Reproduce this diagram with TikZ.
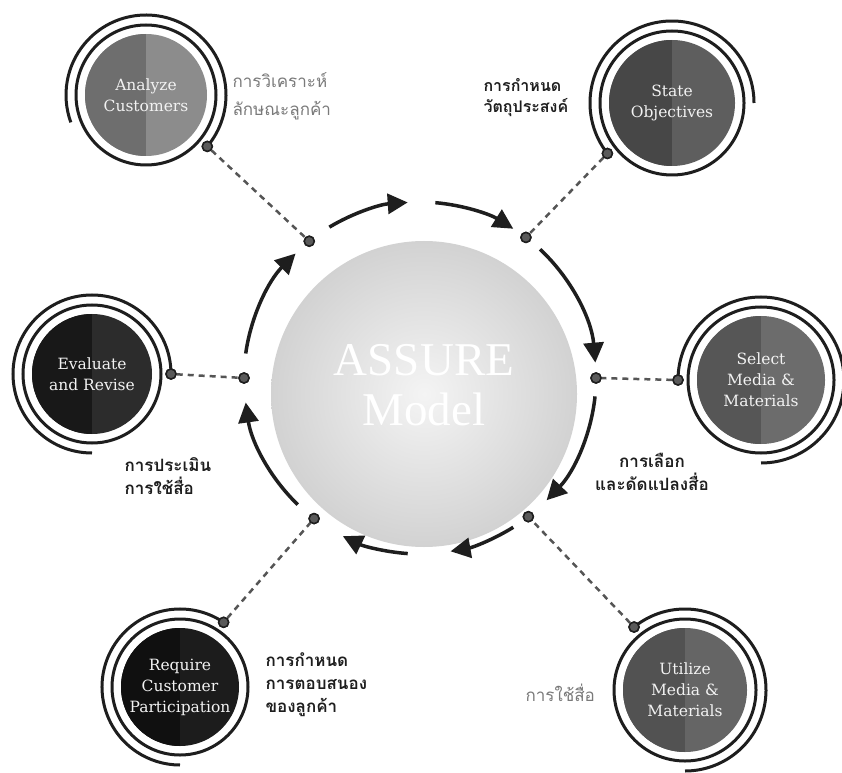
\documentclass[tikz,border=0pt]{standalone}
\usepackage{fontspec}
\setmainfont{DejaVu Serif}
\newfontfamily\thai[Script=Thai]{Loma}
\newfontfamily\titlefont{Liberation Serif}
\usetikzlibrary{arrows.meta,calc}
\definecolor{ink}{HTML}{1E1E1E}
\definecolor{dotfill}{HTML}{5A5A5A}
\definecolor{dashcol}{HTML}{555555}
\definecolor{coreIn}{HTML}{F4F4F4}
\definecolor{coreOut}{HTML}{D2D2D2}
\definecolor{aL}{HTML}{6E6E6E}\definecolor{aR}{HTML}{8C8C8C}
\definecolor{sL}{HTML}{474747}\definecolor{sR}{HTML}{5E5E5E}
\definecolor{mL}{HTML}{565656}\definecolor{mR}{HTML}{6C6C6C}
\definecolor{uL}{HTML}{525252}\definecolor{uR}{HTML}{656565}
\definecolor{qL}{HTML}{101010}\definecolor{qR}{HTML}{1C1C1C}
\definecolor{eL}{HTML}{181818}\definecolor{eR}{HTML}{2C2C2C}
\definecolor{thaigray}{HTML}{7A7A7A}
\definecolor{disktext}{HTML}{F2F2F2}
\tikzset{
  disk/.style={circle, inner sep=0pt, minimum size=#1, text=disktext, align=center,
    font=\fontsize{15.5}{21}\selectfont},
  halfdisk/.style 2 args={fill=#2, path picture={\fill[#1] (path picture bounding box.south west) rectangle (path picture bounding box.north);}},
  ringline/.style={draw=ink, line width=3pt},
  ndot/.style={circle, inner sep=0pt, minimum size=10pt, fill=dotfill, draw=ink, line width=1.5pt},
  rdot/.style={circle, inner sep=0pt, minimum size=10pt, fill=dotfill, draw=ink, line width=1.5pt},
  link/.style={draw=dashcol, line width=2.5pt, dash pattern=on 6pt off 5pt},
  cyc/.style={draw=ink, line width=3.5pt, -{Triangle[length=20pt,width=20pt]}},
  thaibold/.style={font=\thai\bfseries\fontsize{17}{23}\selectfont, align=left, text=ink},
  thaibc/.style={font=\thai\bfseries\fontsize{17}{23}\selectfont, align=center, text=ink},
  thailight/.style={font=\thai\fontsize{17}{28}\selectfont, align=left, text=thaigray},
}
\begin{document}
\begin{tikzpicture}[x=1pt,y=1pt]
\useasboundingbox[fill=white] (0,0) rectangle (842,772);

% central disk
\node[circle, minimum size=306pt, inner sep=0pt, inner color=coreIn, outer color=coreOut] (core) at (424,378) {};
\node[font=\titlefont\fontsize{47}{50}\selectfont, text=white, align=center] (title) at ([yshift=9pt]core.center) {ASSURE\\Model};

% ring of the cycle
\coordinate (rc) at (420,394);
\node[rdot] (r1) at ([shift={(129:176pt)}]rc) {};
\node[rdot] (r2) at ([shift={(53:176pt)}]rc) {};
\node[rdot] (r3) at ([shift={(0:176pt)}]rc) {};
\node[rdot] (r4) at ([shift={(-52:176pt)}]rc) {};
\node[rdot] (r5) at ([shift={(233:176pt)}]rc) {};
\node[rdot] (r6) at ([shift={(180:176pt)}]rc) {};

\draw[cyc] ([shift={(121:176pt)}]rc) arc[start angle=121, end angle=94, radius=176pt];
\draw[cyc] ([shift={(85:176pt)}]rc) arc[start angle=85, end angle=58, radius=176pt];
\draw[cyc] ([shift={(47:176pt)}]rc) arc[start angle=47, end angle=5, radius=176pt];
\draw[cyc] ([shift={(-6:176pt)}]rc) arc[start angle=-6, end angle=-44, radius=176pt];
\draw[cyc] ([shift={(-58:176pt)}]rc) arc[start angle=-58, end angle=-80, radius=176pt];
\draw[cyc] ([shift={(-94:176pt)}]rc) arc[start angle=-94, end angle=-116, radius=176pt];
\draw[cyc] ([shift={(226:176pt)}]rc) arc[start angle=226, end angle=188, radius=176pt];
\draw[cyc] ([shift={(172:176pt)}]rc) arc[start angle=172, end angle=135, radius=176pt];

% Analyze Customers
\node[disk=122pt, halfdisk={aL}{aR}] (an) at (146,677) {Analyze\\Customers};
\draw[ringline] (an.center) circle[radius=70pt];
\draw[ringline] ([shift={(-40:80pt)}]an.center) arc[start angle=-40, end angle=200, radius=80pt];
\node[ndot] (and) at ([shift={(-40:80pt)}]an.center) {};
\node[thailight, anchor=west] (ant) at (229,676) {การวิเคราะห์\\ลักษณะลูกค้า};

% State Objectives
\node[disk=126pt, halfdisk={sL}{sR}] (so) at (672,669) {State\\Objectives};
\draw[ringline] (so.center) circle[radius=72pt];
\draw[ringline] ([shift={(218:82pt)}]so.center) arc[start angle=218, end angle=0, radius=82pt];
\node[ndot] (sod) at ([shift={(218:82pt)}]so.center) {};
\node[thaibold, anchor=west, font=\thai\bfseries\fontsize{16}{21}\selectfont] (sot) at (480,674) {การกำหนด\\วัตถุประสงค์};

% Select Media & Materials
\node[disk=128pt, halfdisk={mL}{mR}] (sm) at (761,392) {Select\\Media \&\\Materials};
\draw[ringline] (sm.center) circle[radius=73pt];
\draw[ringline] ([shift={(180:83pt)}]sm.center) arc[start angle=180, end angle=-90, radius=83pt];
\node[ndot] (smd) at ([shift={(180:83pt)}]sm.center) {};
\node[thaibc] (smt) at (652,300) {การเลือก\\และดัดแปลงสื่อ};

% Utilize Media & Materials
\node[disk=124pt, halfdisk={uL}{uR}] (um) at (685,82) {Utilize\\Media \&\\Materials};
\draw[ringline] (um.center) circle[radius=71pt];
\draw[ringline] ([shift={(129:81pt)}]um.center) arc[start angle=129, end angle=-90, radius=81pt];
\node[ndot] (umd) at ([shift={(129:81pt)}]um.center) {};
\node[thailight, anchor=west] (umt) at (522,79) {การใช้สื่อ};

% Require Customer Participation
\node[disk=118pt, halfdisk={qL}{qR}] (rq) at (180,85) {Require\\Customer\\Participation};
\draw[ringline] (rq.center) circle[radius=68pt];
\draw[ringline] ([shift={(56:78pt)}]rq.center) arc[start angle=56, end angle=270, radius=78pt];
\node[ndot] (rqd) at ([shift={(56:78pt)}]rq.center) {};
\node[thaibold, anchor=west] (rqt) at (262,87) {การกำหนด\\การตอบสนอง\\ของลูกค้า};

% Evaluate and Revise
\node[disk=120pt, halfdisk={eL}{eR}] (ev) at (92,398) {Evaluate\\and Revise};
\draw[ringline] (ev.center) circle[radius=69pt];
\draw[ringline] ([shift={(0:79pt)}]ev.center) arc[start angle=0, end angle=270, radius=79pt];
\node[ndot] (evd) at ([shift={(0:79pt)}]ev.center) {};
\node[thaibold, anchor=west] (evt) at (121,296) {การประเมิน\\การใช้สื่อ};

% dashed links
\draw[link] (and) -- (r1);
\draw[link] (sod) -- (r2);
\draw[link] (smd) -- (r3);
\draw[link] (umd) -- (r4);
\draw[link] (rqd) -- (r5);
\draw[link] (evd) -- (r6);
\foreach \d in {and,sod,smd,umd,rqd,evd,r1,r2,r3,r4,r5,r6}{\node[ndot] at (\d) {};}
\end{tikzpicture}
\end{document}
